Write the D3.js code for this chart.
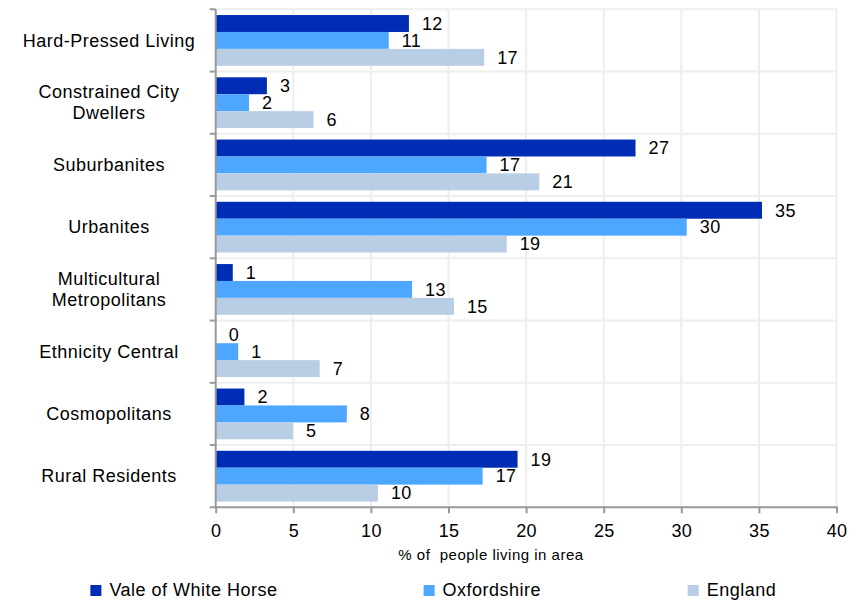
<!DOCTYPE html>
<html><head><meta charset="utf-8">
<script src="https://cdn.jsdelivr.net/npm/d3@7/dist/d3.min.js"></script>
<style>
body{margin:0;background:#fff;}
text{font-family:"Liberation Sans",Arial,sans-serif;fill:#000;}
</style></head>
<body><svg id="c" width="855" height="601"></svg>
<script>
const categories = [["Hard-Pressed Living"],["Constrained City","Dwellers"],["Suburbanites"],["Urbanites"],["Multicultural","Metropolitans"],["Ethnicity Central"],["Cosmopolitans"],["Rural Residents"]];
const seriesNames = ["Vale of White Horse","Oxfordshire","England"];
const valeValues = [12.45, 3.3, 27.05, 35.2, 1.1, 0, 1.85, 19.45];
const oxfordshireValues = [11.15, 2.15, 17.45, 30.35, 12.65, 1.45, 8.45, 17.2];
const englandValues = [17.3, 6.3, 20.85, 18.75, 15.35, 6.7, 4.98, 10.45];
const xTicks = [0,5,10,15,20,25,30,35,40];
const colors = ["#002db3","#4da6ff","#b9cde5"];
const axisTitle = "% of  people living in area";

const svg = d3.select("#c");
const L=215.7, R=836.5, T=9.3, B=507.3;
const catKeys = categories.map(c=>c.join(" "));
const x = d3.scaleLinear().domain([0,40]).range([L,R]);
const y = d3.scaleBand().domain(catKeys).range([T,B]).padding(0);
const y1 = d3.scaleBand().domain(seriesNames).range([0,y.bandwidth()]).paddingInner(0).paddingOuter(0.34);
const allVals = [valeValues, oxfordshireValues, englandValues];

// gridlines
const g = svg.append("g");
g.selectAll("line.v").data(xTicks.slice(1)).join("line")
  .attr("x1",d=>x(d)).attr("x2",d=>x(d)).attr("y1",T).attr("y2",B)
  .attr("stroke","#eeeeee").attr("stroke-width",2);
g.selectAll("line.h").data(d3.range(catKeys.length)).join("line")
  .attr("x1",L).attr("x2",R).attr("y1",i=>T+i*y.step()).attr("y2",i=>T+i*y.step())
  .attr("stroke","#eeeeee").attr("stroke-width",2);

// bars
catKeys.forEach((c,ci)=>{
  seriesNames.forEach((s,si)=>{
    const v = allVals[si][ci];
    const yy = y(c)+y1(s);
    svg.append("rect").attr("x",x(0)).attr("y",yy).attr("width",x(v)-x(0)).attr("height",y1.bandwidth()).attr("fill",colors[si]);
    svg.append("text").attr("x",x(v)+13).attr("y",yy+y1.bandwidth()/2).attr("dy","0.35em")
      .attr("font-size",18).attr("letter-spacing","0.4px").text(Math.round(v));
  });
});

// y axis
const ya = svg.append("g").attr("transform",`translate(${L},0)`);
ya.append("line").attr("x1",0).attr("x2",0).attr("y1",T).attr("y2",B).attr("stroke","#999").attr("stroke-width",2);
ya.selectAll("line.t").data(d3.range(catKeys.length+1)).join("line")
  .attr("x1",-6).attr("x2",0).attr("y1",i=>T+i*y.step()).attr("y2",i=>T+i*y.step()).attr("stroke","#999").attr("stroke-width",2);
categories.forEach((lines,ci)=>{
  const cy = y(catKeys[ci])+y.bandwidth()/2;
  const t = svg.append("text").attr("text-anchor","middle").attr("font-size",18).attr("letter-spacing","0.5px");
  lines.forEach((ln,li)=>{
    t.append("tspan").attr("x",109).attr("y",cy+(li-(lines.length-1)/2)*21).attr("dy","0.34em").text(ln);
  });
});

// x axis
const xAxis = d3.axisBottom(x).tickValues(xTicks).tickSize(6).tickPadding(11).tickFormat(d3.format("d"));
const xa = svg.append("g").attr("transform",`translate(0,${B})`).call(xAxis);
xa.select(".domain").attr("stroke","#999").attr("stroke-width",2).attr("d",`M${L-1},0H${R+1}`);
xa.selectAll(".tick line").attr("stroke","#999").attr("stroke-width",2);
xa.selectAll(".tick text").attr("font-size",18).attr("font-family","Liberation Sans, Arial, sans-serif").attr("fill","#000").attr("letter-spacing","0.3px");

svg.append("text").attr("x",491).attr("y",560).attr("text-anchor","middle").attr("font-size",15).attr("letter-spacing","0.5px")
  .style("white-space","pre").text(axisTitle);

// legend
const legX = [90.4, 423.6, 687.7];
seriesNames.forEach((s,i)=>{
  svg.append("rect").attr("x",legX[i]).attr("y",585).attr("width",11).attr("height",11).attr("fill",colors[i]);
  svg.append("text").attr("x",legX[i]+19).attr("y",596).attr("font-size",18).attr("letter-spacing","0.5px").text(s);
});
</script></body></html>
